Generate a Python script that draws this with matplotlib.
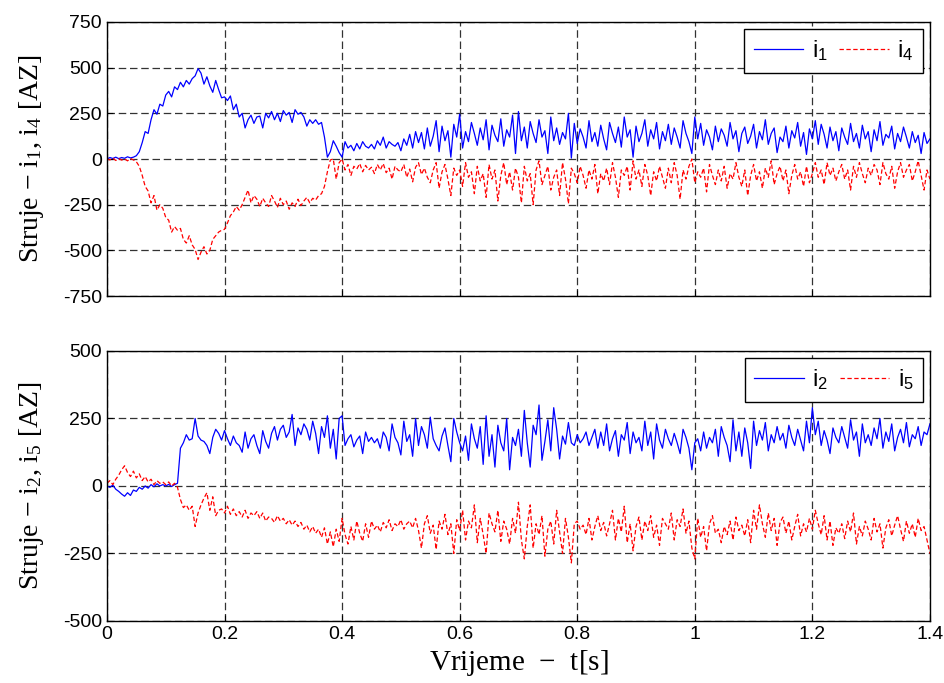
import numpy as np
import matplotlib
matplotlib.use('Agg')
import matplotlib.pyplot as plt

plt.rcParams['font.family'] = ['Liberation Sans', 'DejaVu Sans']
plt.rcParams['mathtext.fontset'] = 'custom'
plt.rcParams['mathtext.rm'] = 'Liberation Serif'
plt.rcParams['mathtext.sf'] = 'Liberation Sans'
plt.rcParams['mathtext.it'] = 'Liberation Serif:italic'
plt.rcParams['axes.unicode_minus'] = False

# time axis, 5 ms step
t = np.linspace(0, 1.4, 281)

# upper panel currents
i1 = [0, 8, 3, 10, 2, 8, 4, 12, 6, 10,
      18, 40, 90, 150, 140, 215, 270, 245, 300, 290,
      350, 370, 340, 395, 380, 420, 395, 430, 410, 440,
      455, 495, 470, 410, 450, 400, 365, 430, 380, 335,
      340, 320, 345, 270, 300, 230, 250, 170, 215, 240,
      195, 230, 235, 170, 250, 225, 260, 215, 250, 205,
      265, 240, 255, 200, 270, 245, 255, 230, 180, 215,
      195, 215, 190, 200, 120, 10, 40, 100, 70, 35,
      10, 95, 60, 75, 45, 85, 55, 95, 70, 60,
      80, 55, 100, 75, 120, 60, 95, 80, 70, 90,
      45, 110, 75, 135, 60, 150, 90, 145, 55, 170,
      70, 125, 210, 40, 180, 100, 155, 10, 190, 120,
      245, 60, 150, 95, 200, 140, 75, 170, 105, 215,
      50, 185, 130, 95, 220, 70, 160, 120, 240, 30,
      260, 100, 175, 60, 205, 140, 90, 215, 120, 155,
      30, 230, 100, 170, 80, 145, 110, 250, 5, 195,
      85, 165, 120, 60, 210, 95, 145, 70, 185, 110,
      50, 200, 140, 90, 175, 65, 230, 120, 160, 10,
      180, 95, 140, 215, 70, 160, 110, 200, 55, 150,
      100, 190, 80, 170, 120, 60, 210, 140, 95, 30,
      230, 110, 195, 75, 160, 120, 50, 180, 95, 165,
      130, 70, 200, 110, 155, 40, 140, 175, 85, 125,
      190, 60, 150, 105, 215, 80, 140, 170, 35, 120,
      95, 180, 60, 155, 115, 200, 70, 145, 25, 165,
      110, 210, 80, 190, 135, 60, 175, 100, 150, 45,
      170, 120, 80, 195, 95, 140, 60, 185, 110, 150,
      40, 160, 100, 205, 75, 135, 115, 180, 55, 140,
      95, 175, 120, 60, 150, 90, 130, 30, 145, 85,
      110]

i4 = [0, -5, 5, -8, 2, -6, 0, -10, 3, -5,
      -15, -40, -90, -150, -175, -240, -200, -280, -250, -270,
      -320, -335, -400, -370, -390, -380, -440, -460, -420, -470,
      -495, -550, -510, -480, -520, -500, -440, -420, -400, -390,
      -385, -350, -310, -290, -260, -280, -250, -210, -170, -240,
      -200, -220, -260, -215, -240, -260, -200, -230, -265, -215,
      -250, -230, -275, -240, -260, -220, -255, -230, -210, -240,
      -215, -225, -200, -190, -150, -70, -5, 0, -110, -20,
      0, -60, -30, -90, -40, -55, -25, -70, -35, -60,
      -45, -80, -30, -60, -25, -75, -50, -110, -40, -60,
      -70, -30, -100, -55, -125, -45, -20, -85, -50, -100,
      -130, -60, -20, -160, -70, -30, -110, -200, -50, -90,
      -60, -150, -20, -100, -70, -190, -40, -120, -80, -210,
      -30, -110, -60, -230, -90, -20, -140, -70, -170, -50,
      -100, -240, -40, -120, -80, -250, -60, -10, -140, -90,
      -40, -170, -100, -60, -200, -20, -110, -245, -50, -80,
      -130, -40, -90, -160, -60, -110, -30, -190, -80, -120,
      -50, -140, -20, -100, -210, -60, -90, -40, -170, -10,
      -110, -60, -150, -30, -90, -200, -70, -120, -40, -100,
      -160, -50, -130, -20, -90, -220, -60, -110, -40, 0,
      -130, -70, -100, -50, -180, -30, -90, -140, -60, -120,
      -40, -160, -80, -110, -20, -100, -150, -60, -200, -90,
      -30, -120, -70, -160, -50, -100, -10, -140, -80, -40,
      -120, -60, -190, -90, -30, -110, -70, -150, -40, -130,
      -80, -20, -100, -60, -140, -20, -90, -50, -120, -70,
      -30, -110, -60, -170, -40, -100, -20, -80, -130, -50,
      -90, -30, -60, -140, -20, -80, -110, -40, -160, -70,
      -20, -100, -60, -30, -120, -70, -10, -90, -170, -60,
      -110]

# lower panel currents
i2 = [0, -5, 3, -12, -20, -30, -38, -25, -35, -15,
      -20, -5, -12, 0, -8, 5, -3, 8, 0, 5,
      0, 6, -2, 5, 10, 140, 160, 190, 170, 175,
      250, 185, 170, 165, 150, 120, 180, 210, 195, 170,
      205, 175, 150, 185, 160, 150, 125, 200, 140, 175,
      190, 150, 120, 205, 165, 140, 195, 220, 170, 210,
      225, 180, 200, 265, 150, 215, 190, 230, 210, 170,
      240, 195, 120, 220, 180, 260, 140, 210, 100, 250,
      260, 150, 175, 190, 145, 170, 185, 120, 200, 165,
      180, 160, 175, 140, 200, 180, 130, 230, 180, 160,
      115, 240, 165, 190, 110, 250, 150, 220, 190, 140,
      255, 175, 150, 130, 185, 215, 150, 90, 250, 200,
      160, 130, 185, 95, 230, 175, 140, 220, 80, 260,
      110, 190, 70, 225, 160, 130, 250, 60, 180, 150,
      210, 110, 280, 160, 70, 225, 190, 300, 95, 165,
      245, 130, 290, 210, 100, 185, 155, 235, 160, 150,
      190, 160, 175, 200, 150, 180, 210, 140, 200, 150,
      230, 130, 175, 205, 110, 190, 170, 235, 120, 200,
      160, 180, 130, 240, 150, 200, 100, 230, 170, 140,
      210, 175, 150, 195, 160, 120, 210, 180, 140, 60,
      160, 175, 130, 200, 140, 180, 160, 210, 110, 220,
      180, 150, 90, 245, 130, 200, 110, 215, 160, 65,
      240, 150, 205, 170, 235, 130, 190, 160, 220, 170,
      195, 140, 225, 180, 150, 210, 170, 130, 240, 160,
      290, 190, 240, 150, 205, 170, 120, 215, 180, 160,
      220, 180, 140, 245, 170, 200, 110, 230, 160, 190,
      150, 215, 175, 250, 140, 200, 165, 230, 130, 180,
      210, 160, 235, 145, 190, 175, 220, 150, 200, 190,
      230]

i5 = [10, 20, 5, 25, 40, 60, 75, 50, 35, 55,
      30, 45, 20, 35, 15, 25, 5, 20, 10, 15,
      5, 15, 0, 10, -5, -50, -80, -70, -90, -75,
      -150, -100, -70, -45, -25, -90, -40, -110, -90, -85,
      -100, -75, -105, -85, -110, -95, -115, -90, -120, -100,
      -110, -95, -120, -100, -130, -115, -120, -135, -110, -130,
      -120, -140, -125, -145, -130, -150, -135, -160, -145, -170,
      -150, -175, -160, -190, -155, -215, -170, -225, -160, -205,
      -120, -180, -215, -150, -200, -130, -175, -205, -140, -190,
      -130, -160, -145, -170, -135, -155, -125, -165, -140, -150,
      -125, -160, -140, -130, -155, -120, -165, -230, -140, -110,
      -175, -145, -235, -130, -160, -105, -180, -140, -250, -125,
      -165, -90, -200, -130, -155, -70, -210, -120, -180, -250,
      -100, -140, -170, -90, -205, -130, -160, -215, -120, -175,
      -60, -200, -270, -150, -70, -230, -140, -180, -110, -260,
      -160, -130, -215, -90, -170, -250, -120, -190, -285, -140,
      -130, -160, -145, -180, -120, -200, -150, -110, -165, -135,
      -185, -140, -90, -200, -120, -170, -75, -210, -140, -240,
      -150, -115, -200, -130, -165, -110, -190, -145, -220, -120,
      -140, -160, -100, -200, -125, -150, -85, -175, -130, -230,
      -270, -120, -190, -150, -240, -140, -110, -175, -160, -210,
      -150, -180, -130, -200, -115, -165, -145, -185, -125, -210,
      -90, -160, -70, -140, -190, -100, -165, -120, -220, -135,
      -115, -175, -130, -200, -150, -105, -185, -140, -170, -120,
      -160, -90, -140, -180, -110, -200, -130, -220, -155, -175,
      -140, -195, -130, -170, -100, -215, -150, -185, -130, -160,
      -200, -120, -170, -140, -230, -155, -125, -185, -145, -110,
      -160, -205, -130, -175, -140, -190, -120, -165, -150, -200,
      -250]

xticks = [0, 0.2, 0.4, 0.6, 0.8, 1.0, 1.2, 1.4]
xtick_labels = ['0', '0.2', '0.4', '0.6', '0.8', '1', '1.2', '1.4']
yticks_top = [-750, -500, -250, 0, 250, 500, 750]
yticks_bot = [-500, -250, 0, 250, 500]

fig = plt.figure(figsize=(9.44, 6.83), dpi=100)
ax1 = fig.add_axes([0.1133, 0.5666, 0.8718, 0.4012])
ax2 = fig.add_axes([0.1133, 0.0908, 0.8718, 0.3953])

dash = (0, (3.5, 2))


def style(ax, yticks):
    ax.set_xlim(0, 1.4)
    ax.set_ylim(yticks[0], yticks[-1])
    ax.set_xticks(xticks)
    ax.set_yticks(yticks)
    ax.grid(True, color='0.2', linestyle=(0, (6, 3)), linewidth=0.9)
    ax.tick_params(direction='in', labelsize=14, length=4)
    for s in ax.spines.values():
        s.set_linewidth(1.0)


def add_legend(ax):
    leg = ax.legend(loc='upper right', ncol=2, fontsize=17, fancybox=False,
                    edgecolor='black', framealpha=1, borderaxespad=0.3,
                    handlelength=2.1, columnspacing=0.5, handletextpad=0.35,
                    borderpad=0.4)
    leg.get_frame().set_linewidth(1.0)


ax1.plot(t, i1, color='blue', lw=0.9, label=r'i$\mathsf{_1}$')
ax1.plot(t, i4, color='red', lw=0.9, linestyle=dash, label=r'i$\mathsf{_4}$')
style(ax1, yticks_top)
ax1.set_xticklabels([])
ax1.set_ylabel(r'Struje $-$ i$_1$, i$_4$ [AZ]', fontfamily='Liberation Serif',
               fontsize=20, labelpad=12)
add_legend(ax1)

ax2.plot(t, i2, color='blue', lw=0.9, label=r'i$\mathsf{_2}$')
ax2.plot(t, i5, color='red', lw=0.9, linestyle=dash, label=r'i$\mathsf{_5}$')
style(ax2, yticks_bot)
ax2.set_xticklabels(xtick_labels)
ax2.set_ylabel(r'Struje $-$ i$_2$, i$_5$ [AZ]', fontfamily='Liberation Serif',
               fontsize=20, labelpad=12)
ax2.set_xlabel(r'Vrijeme  $-$  t[s]', fontfamily='Liberation Serif', fontsize=21)
add_legend(ax2)

fig.savefig('out.png', dpi=100)
